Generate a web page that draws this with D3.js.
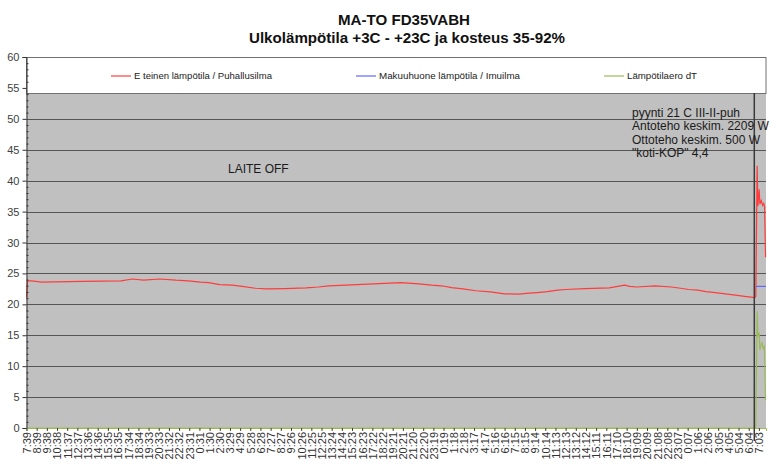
<!DOCTYPE html>
<html>
<head>
<meta charset="utf-8">
<script src="https://cdn.jsdelivr.net/npm/d3@7"></script>
<style>
  html, body { margin: 0; padding: 0; background: #fff; }
  svg { display: block; font-family: "Liberation Sans", Arial, sans-serif; }
</style>
</head>
<body>
<svg id="chart" width="774" height="472"></svg>
<script>
// ---- Data ----
const titleLines = ["MA-TO FD35VABH", "Ulkolämpötila +3C - +23C ja kosteus 35-92%"];
const categories = ["7:39","8:39","9:38","10:38","11:37","12:37","13:36","14:36","15:35","16:35","17:34","18:34","19:33","20:33","21:32","22:32","23:31","0:31","1:30","2:30","3:29","4:29","5:28","6:28","7:27","8:27","9:26","10:26","11:25","12:25","13:24","14:24","15:23","16:23","17:22","18:22","19:21","20:21","21:20","22:20","23:19","0:19","1:18","2:18","3:17","4:17","5:16","6:16","7:15","8:15","9:14","10:14","11:13","12:13","13:12","14:12","15:11","16:11","17:10","18:10","19:09","20:09","21:08","22:08","23:07","0:07","1:06","2:06","3:05","4:05","5:04","6:04","7:03"];
const yTicks = [0,5,10,15,20,25,30,35,40,45,50,55,60];
const seriesNames = ["E teinen lämpötila / Puhallusilma", "Makuuhuone lämpötila / Imuilma", "Lämpötilaero dT"];

// positions are in category-index units (one unit = one label interval)
const redK = [0,0.1,0.5,1.5,5.5,9.3,10.4,11.5,13.1,14.7,15.9,17.1,17.9,19.0,20.2,21.2,22.5,23.6,25.4,27.5,28.7,29.7,31.4,34.1,36.8,38.6,39.8,40.8,41.8,42.9,44.2,45.6,47.0,48.4,49.4,50.2,51.2,52.2,53.0,54.9,57.3,58.8,59.3,60.0,61.8,63.4,64.3,65.1,66.0,66.8,67.7,68.7,69.7,70.6,71.6,71.7,71.83,71.9,72.03,72.1,72.23,72.38,72.48,72.56,72.66];
const redV = [21.1,23.8,23.8,23.6,23.7,23.8,24.1,23.9,24.1,23.9,23.8,23.6,23.5,23.2,23.1,22.9,22.6,22.5,22.55,22.65,22.8,23.0,23.1,23.3,23.5,23.3,23.1,23.0,22.7,22.5,22.2,22.0,21.7,21.65,21.8,21.9,22.05,22.3,22.4,22.55,22.65,23.1,22.9,22.8,23.0,22.8,22.6,22.4,22.3,22.05,21.9,21.7,21.5,21.3,21.1,21.3,42.4,35.9,38.6,36.2,36.8,36.0,36.3,35.8,27.6];
const blueK = [71.72,72.7];
const blueV = [22.9,22.9];
const greenK = [0,71.7,71.83,71.9,72.03,72.1,72.16,72.3,72.43,72.53,72.66];
const greenV = [0,0,18.9,14.8,15.4,12.6,13.2,13.8,12.9,13.2,4.5];

const annotationLines = ["pyynti 21 C III-II-puh", "Antoteho keskim. 2209 W", "Ottoteho keskim. 500 W", "\"koti-KOP\" 4,4"];
const offLabel = "LAITE OFF";
const markerK = 71.55;

// ---- Layout ----
const svg = d3.select("#chart");
const colors = ["#ff3c3c", "#6464ff", "#9bbb59"];
const pLeft = 26.5, pRight = 766, pTop = 57, pBottom = 428;

const x = d3.scaleLinear().domain([0, 72.7]).range([pLeft, pRight]);
const y = d3.scaleLinear().domain([0, 60]).range([pBottom, pTop]);

// plot background
svg.append("rect").attr("x", pLeft).attr("y", pTop)
  .attr("width", pRight - pLeft).attr("height", pBottom - pTop)
  .attr("fill", "#c0c0c0");

// gridlines
svg.append("g").selectAll("line").data(yTicks.filter(v => v > 0 && v < 60)).join("line")
  .attr("x1", pLeft).attr("x2", pRight)
  .attr("y1", d => Math.round(y(d)) + 0.5).attr("y2", d => Math.round(y(d)) + 0.5)
  .attr("stroke", "#555").attr("stroke-width", 1);

// series lines
const line = d3.line().x(d => x(d[0])).y(d => y(d[1]));
const series = [
  d3.zip(redK, redV),
  d3.zip(blueK, blueV),
  d3.zip(greenK, greenV)
];
const plot = svg.append("g");
series.forEach((s, i) => {
  plot.append("path").datum(s).attr("d", line)
    .attr("fill", "none").attr("stroke", colors[i]).attr("stroke-width", 1.2);
});

// legend box
const legTop = 57, legBottom = 93;
svg.append("rect").attr("x", pLeft).attr("y", legTop + 0.5)
  .attr("width", pRight - pLeft).attr("height", legBottom - legTop)
  .attr("fill", "#fff").attr("stroke", "#707070").attr("stroke-width", 1);
const legendItems = [
  {lx: 111, tx: 134, tw: 138},
  {lx: 356, tx: 379, tw: 141},
  {lx: 604, tx: 627, tw: 70}
];
legendItems.forEach((it, i) => {
  svg.append("line").attr("x1", it.lx).attr("x2", it.lx + 20)
    .attr("y1", 76).attr("y2", 76)
    .attr("stroke", colors[i]).attr("stroke-width", 1.2);
  svg.append("text").attr("x", it.tx).attr("y", 79)
    .attr("font-size", 9).attr("fill", "#222")
    .attr("textLength", it.tw).attr("lengthAdjust", "spacingAndGlyphs")
    .text(seriesNames[i]);
});

// y axis
const yAxis = svg.append("g").attr("transform", `translate(${pLeft},0)`)
  .call(d3.axisLeft(y).tickValues(yTicks).tickSize(4).tickPadding(3));
yAxis.select(".domain").attr("stroke", "#333");
yAxis.selectAll(".tick line").attr("stroke", "#333");
yAxis.selectAll("text").attr("font-size", 11).attr("fill", "#404040")
  .attr("font-family", "Liberation Sans, Arial, sans-serif");

const minor = d3.range(1, 60).filter(v => v % 5 !== 0);
const yMinor = svg.append("g").attr("transform", `translate(${pLeft},0)`)
  .call(d3.axisRight(y).tickValues(minor).tickSize(2).tickFormat(""));
yMinor.select(".domain").remove();
yMinor.selectAll(".tick line").attr("stroke", "#333");

// x axis
const xAxis = svg.append("g").attr("transform", `translate(0,${pBottom})`)
  .call(d3.axisBottom(x).tickValues(d3.range(categories.length)).tickSize(3)
    .tickFormat(i => categories[i]));
xAxis.select(".domain").attr("stroke", "#9bbb59");
xAxis.selectAll(".tick line").attr("stroke", "#404040");
xAxis.selectAll("text")
  .attr("font-size", 11).attr("fill", "#333")
  .attr("font-family", "Liberation Sans, Arial, sans-serif")
  .attr("x", -4).attr("y", 0).attr("dy", "0.35em")
  .attr("transform", "rotate(-90)")
  .style("text-anchor", "end");

// marker line
svg.append("line")
  .attr("x1", x(markerK)).attr("x2", x(markerK))
  .attr("y1", legBottom).attr("y2", 441)
  .attr("stroke", "#3a3a3a").attr("stroke-width", 1.5);

// title
svg.append("text").attr("x", 404).attr("y", 25).attr("text-anchor", "middle")
  .attr("font-size", 15).attr("font-weight", "bold").attr("fill", "#111")
  .attr("textLength", 132).attr("lengthAdjust", "spacingAndGlyphs")
  .text(titleLines[0]);
svg.append("text").attr("x", 407).attr("y", 42.5).attr("text-anchor", "middle")
  .attr("font-size", 15).attr("font-weight", "bold").attr("fill", "#111")
  .attr("textLength", 316).attr("lengthAdjust", "spacingAndGlyphs")
  .text(titleLines[1]);

// annotations
svg.append("text").attr("x", 228).attr("y", 173)
  .attr("font-size", 12).attr("fill", "#1a1a1a").text(offLabel);
annotationLines.forEach((t, i) => {
  svg.append("text").attr("x", 632).attr("y", 116.5 + i * 13.5)
    .attr("font-size", 12).attr("fill", "#1a1a1a").text(t);
});
</script>
</body>
</html>
